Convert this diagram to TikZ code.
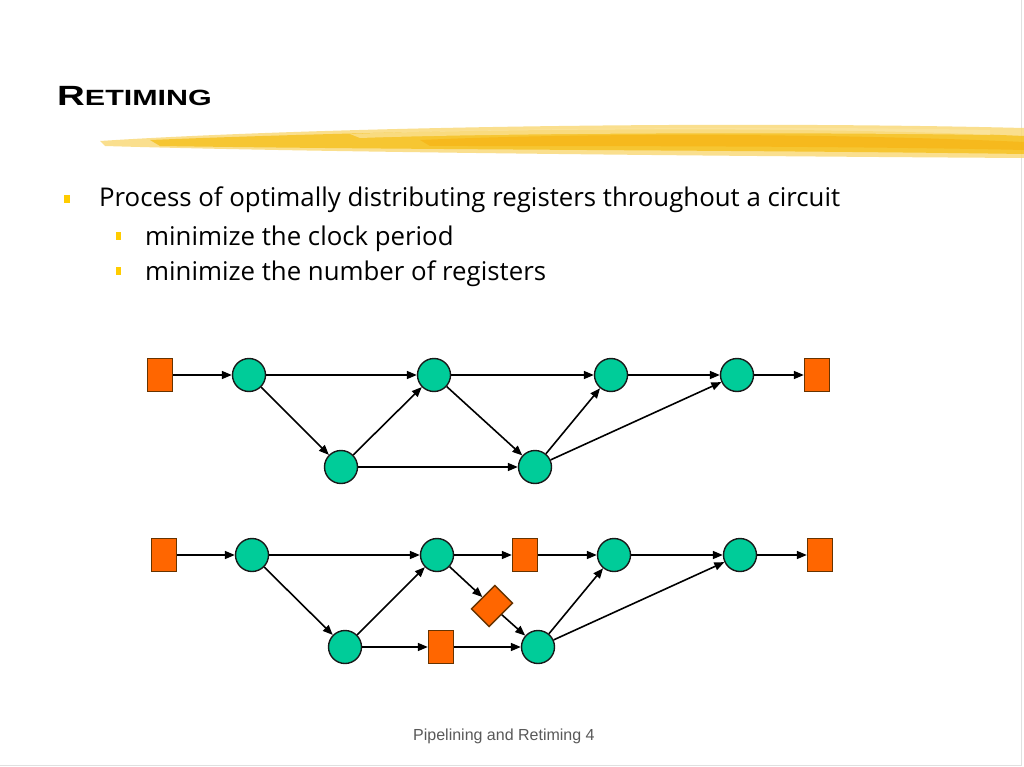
\documentclass[tikz,border=0pt]{standalone}
\usepackage{fontspec}
\setmainfont{Open Sans}
\newfontfamily\footfont{Liberation Sans}
\newfontfamily\titlefont{Liberation Sans}
\usetikzlibrary{arrows.meta}
\definecolor{gatecol}{RGB}{0,204,153}
\definecolor{regcol}{RGB}{255,102,0}
\definecolor{regline}{RGB}{102,51,0}
\definecolor{bulcol}{RGB}{255,204,0}
\definecolor{brushcol}{RGB}{245,190,20}
\tikzset{>={Triangle[length=10pt,width=8pt]}}
\tikzset{
  gate/.style={circle, draw=black!90, fill=gatecol, line width=1.4pt, minimum size=33pt, inner sep=0pt},
  reg/.style={rectangle, draw=regline, fill=regcol, line width=1.4pt, minimum width=25pt, minimum height=33pt, inner sep=0pt},
  wire/.style={->, line width=1.6pt, black}
}

\begin{document}
\begin{tikzpicture}[x=1pt, y=-1pt]
    \useasboundingbox (0,0) rectangle (1024,767);
    \fill[white] (0,0) rectangle (1024,767);
    \draw[black!12, line width=1pt] (1021,0) -- (1021,765) -- (0,765);
    % title and brush stroke
    \node[anchor=base west, inner sep=0pt, font=\titlefont\bfseries] (title) at (57,106)
        {\scalebox{1.45}[1.05]{\fontsize{26.5}{27}\selectfont R\fontsize{21}{21}\selectfont ETIMING}};
    \fill[brushcol!60, opacity=0.8] (100,141) .. controls (300,128) and (700,120) .. (1024,128)
        -- (1024,158) .. controls (700,156) and (300,152) .. (105,146) -- cycle;
    \fill[brushcol, opacity=0.75] (150,140) .. controls (400,130) and (750,124) .. (1024,136)
        -- (1024,154) .. controls (750,150) and (420,150) .. (160,146) -- cycle;
    \fill[brushcol!80!orange, opacity=0.6] (420,140) .. controls (600,132) and (850,134) .. (1024,142)
        -- (1024,150) .. controls (850,146) and (600,146) .. (430,146) -- cycle;
    \fill[brushcol!40, opacity=0.7] (350,134) .. controls (500,128) and (800,126) .. (990,130)
        -- (990,135) .. controls (800,132) and (500,133) .. (360,138) -- cycle;
    % bullets
    \fill[bulcol] (64,195) rectangle (70,203);
    \fill[bulcol] (116,232) rectangle (121,240);
    \fill[bulcol] (116,267) rectangle (121,275);
    \node[anchor=base west, inner sep=0pt, font=\fontsize{25.8}{26}\selectfont] (b1) at (99,207)
        {Process of optimally distributing registers throughout a circuit};
    \node[anchor=base west, inner sep=0pt, font=\fontsize{25.8}{26}\selectfont] (b2) at (145,245)
        {minimize the clock period};
    \node[anchor=base west, inner sep=0pt, font=\fontsize{25.8}{26}\selectfont] (b3) at (145,280)
        {minimize the number of registers};
    % original circuit
    \node[reg]  (rA) at (160,375) {};
    \node[gate] (gA) at (249,375) {};
    \node[gate] (gB) at (341,467) {};
    \node[gate] (gC) at (434,375) {};
    \node[gate] (gD) at (535,467) {};
    \node[gate] (gE) at (611,375) {};
    \node[gate] (gF) at (737,375) {};
    \node[reg]  (rB) at (817,375) {};
    \draw[wire] (rA) -- (gA);
    \draw[wire] (gA) -- (gC);
    \draw[wire] (gA) -- (gB);
    \draw[wire] (gB) -- (gC);
    \draw[wire] (gB) -- (gD);
    \draw[wire] (gC) -- (gD);
    \draw[wire] (gC) -- (gE);
    \draw[wire] (gD) -- (gE);
    \draw[wire] (gD) -- (gF);
    \draw[wire] (gE) -- (gF);
    \draw[wire] (gF) -- (rB);
    % retimed circuit
    \node[reg]  (sA) at (164,555) {};
    \node[gate] (hA) at (252,555) {};
    \node[gate] (hB) at (345,647) {};
    \node[gate] (hC) at (437,555) {};
    \node[reg]  (sC) at (525,555) {};
    \node[reg, rotate=-45] (sD) at (492,606) {};
    \node[reg]  (sB) at (441,647) {};
    \node[gate] (hD) at (538,647) {};
    \node[gate] (hE) at (614,555) {};
    \node[gate] (hF) at (740,555) {};
    \node[reg]  (sE) at (820,555) {};
    \draw[wire] (sA) -- (hA);
    \draw[wire] (hA) -- (hC);
    \draw[wire] (hA) -- (hB);
    \draw[wire] (hB) -- (hC);
    \draw[wire] (hB) -- (sB);
    \draw[wire] (sB) -- (hD);
    \draw[wire] (hC) -- (sC);
    \draw[wire] (sC) -- (hE);
    \draw[wire] (hC) -- (sD);
    \draw[wire] (sD) -- (hD);
    \draw[wire] (hD) -- (hE);
    \draw[wire] (hD) -- (hF);
    \draw[wire] (hE) -- (hF);
    \draw[wire] (hF) -- (sE);
    % footer
    \node[anchor=base west, inner sep=0pt, text=black!65, font=\footfont\fontsize{16}{16}\selectfont] (foot) at (413,740)
        {Pipelining and Retiming 4};
\end{tikzpicture}
\end{document}
